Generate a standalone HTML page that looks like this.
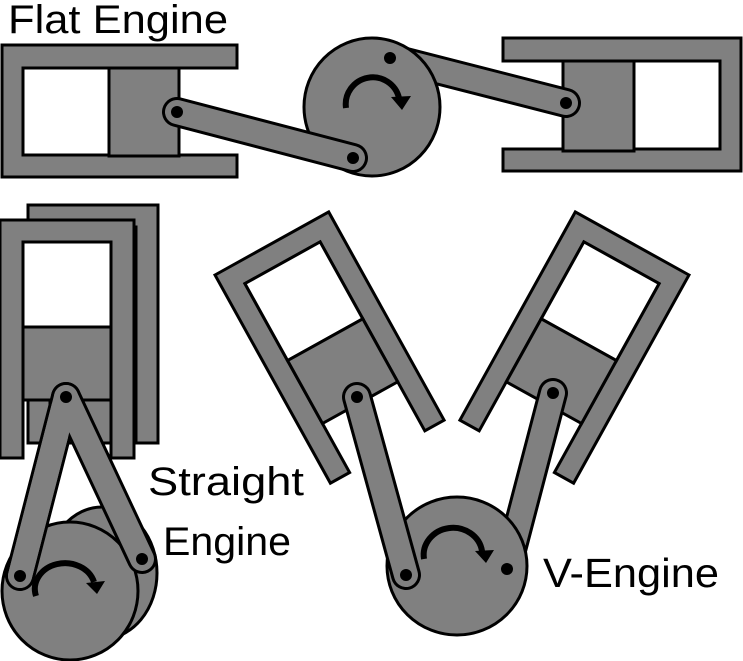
<!DOCTYPE html>
<html><head><meta charset="utf-8"><style>
html,body{margin:0;padding:0;background:#fff;width:743px;height:661px;overflow:hidden}
text{font-family:"Liberation Sans",sans-serif;fill:#000}
</style></head><body>
<svg width="743" height="661" viewBox="0 0 743 661" xmlns="http://www.w3.org/2000/svg">
<defs>
<g id="cyl">
  <path d="M0,0 H130 V238 H108 V22 H22 V238 H0 Z" fill="#808080" stroke="#000" stroke-width="3" stroke-linejoin="miter"/>
  <rect x="22" y="22" width="86" height="88" fill="#fff" stroke="#000" stroke-width="3"/>
  <rect x="22" y="110" width="86" height="72" fill="#808080" stroke="#000" stroke-width="3"/>
</g>
</defs>

<!-- FLAT ENGINE -->
<text x="8" y="33" font-size="40" textLength="220" lengthAdjust="spacingAndGlyphs">Flat Engine</text>
<!-- left cylinder -->
<path d="M2,45 H237 V68 H23 V155 H237 V177 H2 Z" fill="#808080" stroke="#000" stroke-width="3"/>
<rect x="23" y="68" width="86" height="87" fill="#fff" stroke="#000" stroke-width="3"/>
<rect x="109" y="68" width="70" height="88" fill="#808080" stroke="#000" stroke-width="3"/>
<!-- right cylinder -->
<path d="M503,38 H741 V171 H503 V149 H720 V61 H503 Z" fill="#808080" stroke="#000" stroke-width="3"/>
<rect x="634" y="61" width="86" height="88" fill="#fff" stroke="#000" stroke-width="3"/>
<rect x="563" y="61" width="71" height="90" fill="#808080" stroke="#000" stroke-width="3"/>
<!-- right rod (behind disk) -->
<line x1="390" y1="58" x2="566" y2="103" stroke="#000" stroke-width="30" stroke-linecap="round"/>
<line x1="390" y1="58" x2="566" y2="103" stroke="#808080" stroke-width="24" stroke-linecap="round"/>
<circle cx="566" cy="103" r="6" fill="#000"/>
<!-- disk -->
<ellipse cx="372" cy="107" rx="68" ry="69" fill="#808080" stroke="#000" stroke-width="3"/>
<circle cx="390" cy="58" r="6" fill="#000"/>
<!-- left rod -->
<line x1="177" y1="112" x2="353" y2="158" stroke="#000" stroke-width="30" stroke-linecap="round"/>
<line x1="177" y1="112" x2="353" y2="158" stroke="#808080" stroke-width="24" stroke-linecap="round"/>
<circle cx="177" cy="112" r="6" fill="#000"/>
<circle cx="353" cy="158" r="6" fill="#000"/>
<!-- arrow -->
<path d="M346,108 A27,27 0 0 1 399,98" fill="none" stroke="#000" stroke-width="6"/>
<polygon points="391,97 411,96 402,110" fill="#000"/>

<!-- STRAIGHT ENGINE -->
<path d="M28,205 H158 V443 H136 V227 H50 V443 H28 Z" fill="#808080" stroke="#000" stroke-width="3"/>
<rect x="50" y="227" width="86" height="216" fill="#808080" stroke="#000" stroke-width="3"/>
<path d="M0,220 H134 V458 H111 V242 H23 V458 H0 Z" fill="#808080" stroke="#000" stroke-width="3"/>
<rect x="23" y="242" width="88" height="85" fill="#fff" stroke="#000" stroke-width="3"/>
<rect x="23" y="327" width="88" height="73" fill="#808080" stroke="#000" stroke-width="3"/>
<ellipse cx="102" cy="573" rx="55" ry="66" fill="#808080" stroke="#000" stroke-width="3"/>
<ellipse cx="70" cy="591" rx="68" ry="69" fill="#808080" stroke="#000" stroke-width="3"/>
<line x1="66" y1="397" x2="20" y2="576" stroke="#000" stroke-width="30" stroke-linecap="round"/>
<line x1="66" y1="397" x2="20" y2="576" stroke="#808080" stroke-width="24" stroke-linecap="round"/>
<line x1="66" y1="397" x2="142" y2="559" stroke="#000" stroke-width="30" stroke-linecap="round"/>
<line x1="66" y1="397" x2="142" y2="559" stroke="#808080" stroke-width="24" stroke-linecap="round"/>
<line x1="66" y1="397" x2="20" y2="576" stroke="#808080" stroke-width="24" stroke-linecap="round"/>
<circle cx="66" cy="397" r="6" fill="#000"/>
<circle cx="20" cy="576" r="6" fill="#000"/>
<circle cx="142" cy="559" r="6" fill="#000"/>
<path d="M36,596 A28,24 0 0 1 94,582" fill="none" stroke="#000" stroke-width="6"/>
<polygon points="86,583 105,581 97,594" fill="#000"/>
<text x="148" y="495" font-size="40" textLength="156" lengthAdjust="spacingAndGlyphs">Straight</text>
<text x="163" y="555" font-size="40" textLength="128" lengthAdjust="spacingAndGlyphs">Engine</text>

<!-- V ENGINE -->
<g transform="translate(215,275) rotate(-29)"><use href="#cyl"/></g>
<g transform="translate(904,0) scale(-1,1)"><g transform="translate(215,275) rotate(-29)"><use href="#cyl"/></g></g>
<line x1="553" y1="393" x2="507" y2="569" stroke="#000" stroke-width="30" stroke-linecap="round"/>
<line x1="553" y1="393" x2="507" y2="569" stroke="#808080" stroke-width="24" stroke-linecap="round"/>
<circle cx="553" cy="393" r="6" fill="#000"/>
<ellipse cx="457" cy="566" rx="70" ry="69" fill="#808080" stroke="#000" stroke-width="3"/>
<circle cx="507" cy="569" r="6" fill="#000"/>
<line x1="357" y1="397" x2="406" y2="575" stroke="#000" stroke-width="30" stroke-linecap="round"/>
<line x1="357" y1="397" x2="406" y2="575" stroke="#808080" stroke-width="24" stroke-linecap="round"/>
<circle cx="357" cy="397" r="6" fill="#000"/>
<circle cx="406" cy="575" r="6" fill="#000"/>
<path d="M424,559 A28,26 0 0 1 482,551" fill="none" stroke="#000" stroke-width="6"/>
<polygon points="475,551 494,550 486,563" fill="#000"/>
<text x="543" y="587" font-size="41" textLength="176" lengthAdjust="spacingAndGlyphs">V-Engine</text>
</svg>
</body></html>
